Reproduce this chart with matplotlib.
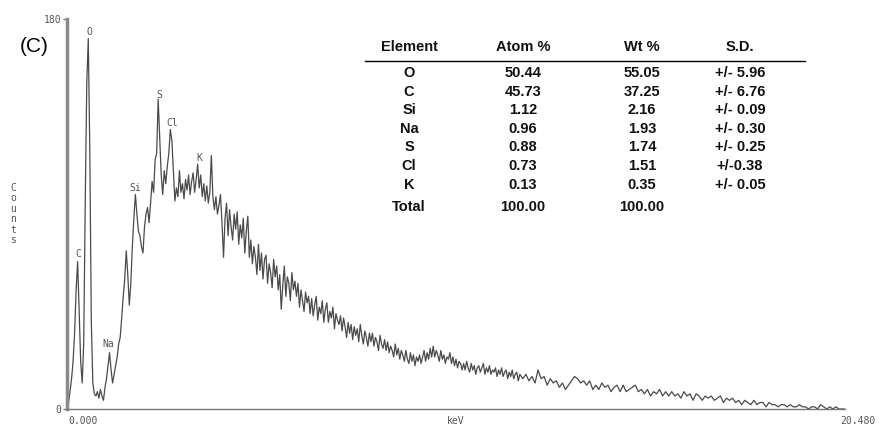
import numpy as np
import matplotlib
matplotlib.use("Agg")
import matplotlib.pyplot as plt
from matplotlib.lines import Line2D

# EDS spectrum, counts
# 0.00 .. 4.00 keV, 0.04 keV per channel
low_counts = [
    0, 3, 8, 14, 22, 35, 55, 68, 45, 22,
    12, 30, 95, 150, 171, 120, 40, 12, 7, 6,
    8, 5, 9, 6, 4, 10, 14, 20, 26, 18,
    12, 16, 20, 24, 30, 33, 42, 52, 60, 73,
    62, 48, 58, 75, 88, 99, 90, 82, 80, 75,
    72, 84, 90, 93, 86, 95, 105, 100, 115, 118,
    143, 125, 108, 99, 110, 104, 112, 118, 129, 124,
    110, 96, 102, 98, 110, 100, 104, 97, 106, 101,
    108, 99, 105, 109, 100, 106, 113, 102, 108, 98,
    104, 96, 103, 95, 100, 117, 98, 92, 98, 90,
    94,
]
# 4.04 .. 12.00 keV, 0.04 keV per channel
mid_counts = [
    99, 86, 70, 88, 95, 80, 92, 84, 78, 90,
    83, 91, 76, 85, 79, 88, 72, 82, 89, 70,
    78, 67, 75, 70, 62, 76, 64, 72, 60, 69,
    71, 58, 67, 63, 56, 69, 61, 66, 55, 62,
    46, 57, 66, 52, 61, 58, 50, 63, 55, 59,
    52, 58, 47, 55, 50, 45, 54, 49, 52, 44,
    51, 43, 48, 52, 41, 47, 44, 50, 40, 46,
    49, 40, 45, 42, 47, 37, 44, 41, 39, 43,
    36, 42, 38, 33, 40, 35, 39, 32, 38, 34,
    37, 31, 39, 34, 30, 36, 33, 29, 35, 31,
    35, 29, 33, 31, 27, 34, 30, 28, 32, 27,
    31, 26, 29, 27, 24, 30, 25, 28, 23, 27,
    25, 22, 27, 23, 21, 26, 22, 25, 20, 24,
    22, 25, 21, 24, 27, 22, 26, 23, 28, 24,
    29, 24, 27, 25, 22, 27, 23, 25, 21, 24,
    23, 26, 21, 24, 20, 23, 19, 22, 21, 18,
    21, 18, 22, 19, 17, 21, 18, 20, 16, 19,
    20, 17, 19, 21, 16, 19, 17, 20, 16, 18,
    17, 19, 15, 18, 16, 19, 15, 17, 18, 14,
    17, 15, 18, 14, 16, 17, 13, 16, 15, 14,
]
# 12.08 .. 20.48 keV, 0.08 keV per channel
tail_counts = [
    16, 13, 15, 12, 18, 14, 15, 11, 14, 12,
    13, 10, 12, 9, 11, 13, 15, 14, 12, 13,
    11, 13, 9, 11, 9, 12, 10, 11, 8, 10,
    11, 8, 11, 8, 9, 10, 11, 8, 9, 7,
    9, 6, 8, 7, 9, 6, 8, 6, 8, 6,
    7, 5, 8, 6, 7, 4, 7, 6, 4, 6,
    5, 6, 4, 5, 6, 3, 5, 4, 5, 3,
    4, 2, 4, 3, 2, 4, 2, 3, 3, 1,
    3, 2, 2, 1, 2, 2, 1, 2, 1, 1,
    2, 1, 1, 0, 1, 1, 0, 2, 1, 0,
    1, 0, 1, 0, 0, 0,
]
low_kev = np.arange(len(low_counts)) * 0.04
mid_kev = 4.04 + np.arange(len(mid_counts)) * 0.04
tail_kev = 12.08 + np.arange(len(tail_counts)) * 0.08
kev = np.concatenate([low_kev, mid_kev, tail_kev])
counts = np.array(low_counts + mid_counts + tail_counts, dtype=float)

# peak labels
peak_names = ["C", "O", "Na", "Si", "S", "Cl", "K"]
peak_kev = [0.29, 0.58, 1.08, 1.79, 2.42, 2.76, 3.47]
peak_y = [71.5, 174, 30, 102, 145, 132, 116]

# quantification table
elements = ["O", "C", "Si", "Na", "S", "Cl", "K", "Total"]
atom_pct = ["50.44", "45.73", "1.12", "0.96", "0.88", "0.73", "0.13", "100.00"]
wt_pct = ["55.05", "37.25", "2.16", "1.93", "1.74", "1.51", "0.35", "100.00"]
sd = ["+/- 5.96", "+/- 6.76", "+/- 0.09", "+/- 0.30", "+/- 0.25", "+/-0.38", "+/- 0.05", ""]

W, H = 880, 428
fig = plt.figure(figsize=(W / 100, H / 100), dpi=100)
ax = fig.add_axes([67 / W, 1 - 409 / H, (845 - 67) / W, (409 - 19) / H])

ax.plot(kev, counts, color="#4a4a4a", lw=0.9)
ax.set_xlim(0, 20.48)
ax.set_ylim(0, 180)

mono = "DejaVu Sans Mono"
grey = "#555555"
for name, x, y in zip(peak_names, peak_kev, peak_y):
    ax.text(x, y, name, ha="center", va="center", fontsize=7, family=mono, color=grey)

for s in ["top", "right"]:
    ax.spines[s].set_visible(False)
ax.spines["left"].set_color("#8a8a8a")
ax.spines["left"].set_linewidth(2.5)
ax.spines["bottom"].set_color("#777777")
ax.spines["bottom"].set_linewidth(1)

ax.set_yticks([0, 180])
ax.set_yticklabels(["0", "180"])
ax.tick_params(axis="y", length=3, width=1, color="#777777", labelsize=7,
               labelcolor=grey, pad=1)
for lab in ax.get_yticklabels():
    lab.set_family(mono)
ax.set_xticks([])

ax.text(1 / W, -12 / 390, "0.000", transform=ax.transAxes, ha="left", va="center",
        fontsize=7, family=mono, color=grey)
ax.text(-5 / (845 - 67) + 1, -12 / 390, "20.480", transform=ax.transAxes, ha="left",
        va="center", fontsize=7, family=mono, color=grey)
ax.text(0.5, -12 / 390, "keV", transform=ax.transAxes, ha="center", va="center",
        fontsize=7, family=mono, color=grey)
fig.text(13 / W, 1 - 214 / H, "C\no\nu\nn\nt\ns", ha="center", va="center",
         fontsize=7, family=mono, color=grey, linespacing=1.05)

fig.text(34 / W, 1 - 47 / H, "(C)", ha="center", va="center", fontsize=15,
         family="Liberation Sans")

# table
cols_x = [409, 523, 642, 740]
heads = ["Element", "Atom %", "Wt %", "S.D."]
tkw = dict(ha="center", va="center", fontsize=10.5, family="Liberation Sans",
           fontweight="bold", color="#111111")
for cx, h in zip(cols_x, heads):
    fig.text(cx / W, 1 - 47 / H, h, **tkw)
fig.add_artist(Line2D([365 / W, 805 / W], [1 - 61 / H, 1 - 61 / H], color="black", lw=1))
row_y = [73, 92, 110, 129, 147, 166, 185, 207]
for ry, e, a, w, d in zip(row_y, elements, atom_pct, wt_pct, sd):
    for cx, t in zip(cols_x, [e, a, w, d]):
        fig.text(cx / W, 1 - ry / H, t, **tkw)

fig.savefig("out.png", dpi=100)
